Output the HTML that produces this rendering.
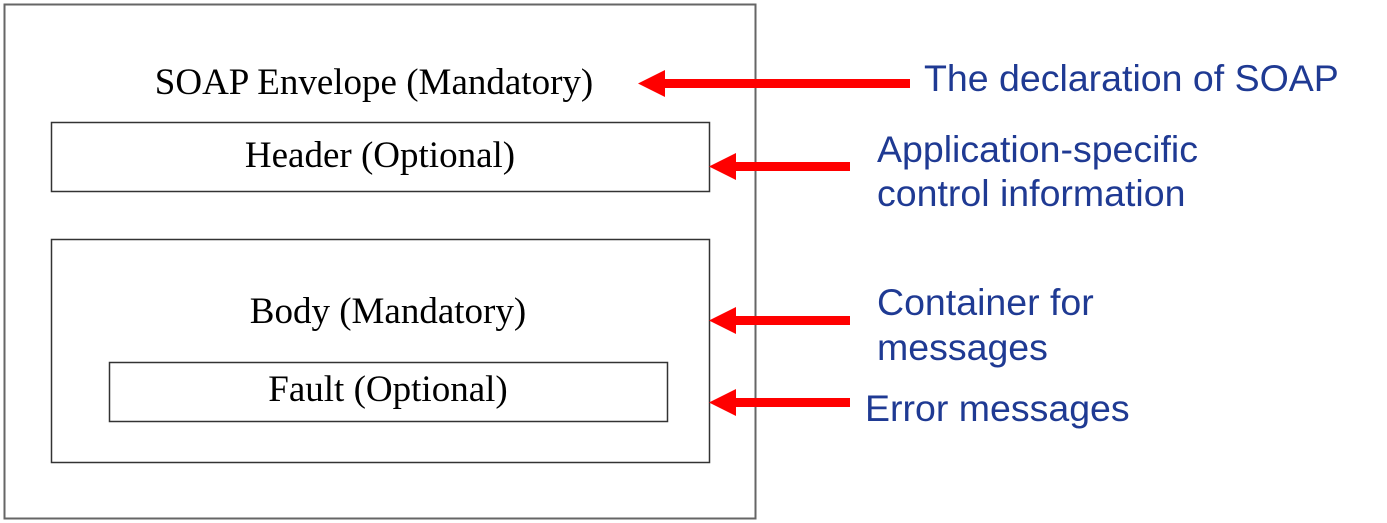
<!DOCTYPE html>
<html><head><style>
body{margin:0;width:1387px;height:523px;background:#fff;overflow:hidden}
svg{display:block}
.s{font-family:"Liberation Serif",serif;font-size:37px;fill:#000}
.b{font-family:"Liberation Sans",sans-serif;font-size:37.5px;fill:#1f3a93}
</style></head><body>
<svg width="1387" height="523" viewBox="0 0 1387 523">
<rect x="4.5" y="4.5" width="751" height="514" fill="none" stroke="#666" stroke-width="2"/>
<rect x="51.5" y="122.5" width="658" height="69" fill="none" stroke="#333" stroke-width="1.5"/>
<rect x="51.5" y="239.5" width="658" height="223" fill="none" stroke="#333" stroke-width="1.5"/>
<rect x="109.5" y="362.5" width="558" height="59" fill="none" stroke="#333" stroke-width="1.5"/>
<text class="s" x="374" y="94" text-anchor="middle">SOAP Envelope (Mandatory)</text>
<text class="s" x="380" y="167" text-anchor="middle">Header (Optional)</text>
<text class="s" x="388" y="323" text-anchor="middle">Body (Mandatory)</text>
<text class="s" x="388" y="401" text-anchor="middle">Fault (Optional)</text>
<g fill="#f00">
<rect x="662" y="79" width="248" height="9"/><polygon points="638,83.5 665,70 665,97"/>
<rect x="734" y="162" width="116" height="9"/><polygon points="709,166.5 736,153 736,180"/>
<rect x="734" y="316" width="116" height="9"/><polygon points="709,320.5 736,307 736,334"/>
<rect x="734" y="398" width="116" height="9"/><polygon points="709,402.5 736,389 736,416"/>
</g>
<text class="b" x="924" y="91">The declaration of SOAP</text>
<text class="b" x="877" y="162">Application-specific</text>
<text class="b" x="877" y="206">control information</text>
<text class="b" x="877" y="315">Container for</text>
<text class="b" x="877" y="360">messages</text>
<text class="b" x="865" y="421">Error messages</text>
</svg>
</body></html>
